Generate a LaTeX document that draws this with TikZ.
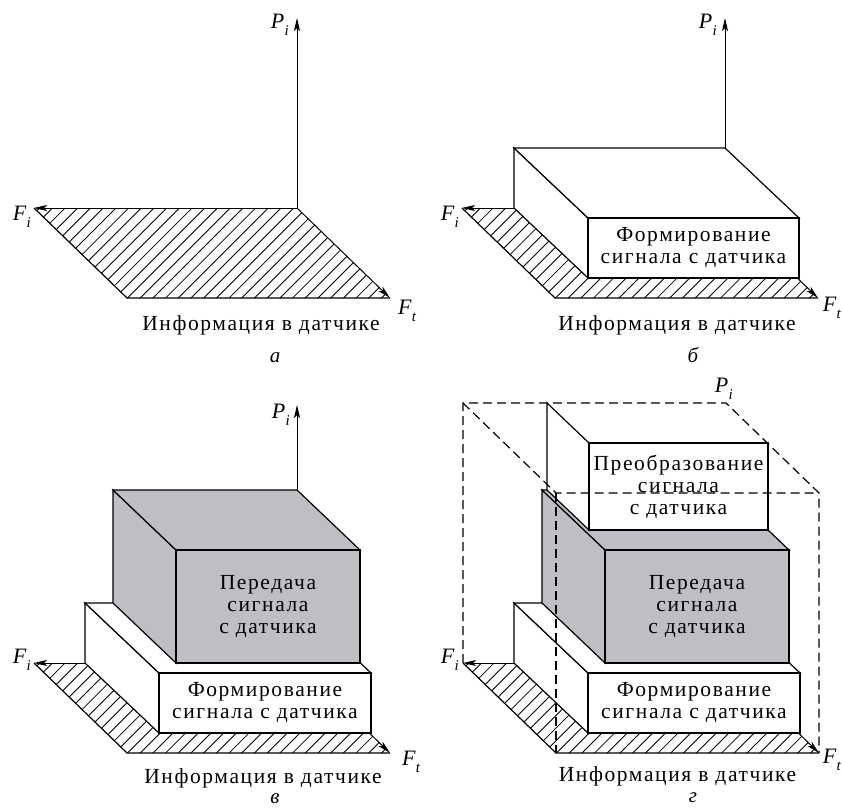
\documentclass[tikz,border=0pt]{standalone}
\usepackage{fontspec}
\setmainfont{Liberation Serif}
\newfontfamily\spacedfont{Liberation Serif}[LetterSpace=7.5]
\usetikzlibrary{arrows.meta,calc}

\definecolor{boxgray}{RGB}{190,191,195}

\tikzset{
  x=1pt, y=-1pt,
  edge/.style={line width=1.2pt, line join=miter},
  face/.style={edge, fill=white},
  grayface/.style={edge, fill=boxgray},
  axis/.style={line width=1pt, -{Stealth[length=13pt,width=6pt,inset=3pt]}},
  hatchline/.style={line width=0.85pt},
  cube/.style={line width=1.2pt, dash pattern=on 9pt off 5pt},
  txt/.style={font=\spacedfont\fontsize{21.5}{22}\selectfont, align=center, inner sep=0pt},
  axlabel/.style={font=\fontsize{22}{22}\selectfont\itshape, inner sep=0pt},
  caption/.style={font=\fontsize{21}{21}\selectfont\itshape, inner sep=0pt},
}

% italic symbol with a lowered index
\newcommand\sym[2]{#1\kern0.3pt\raisebox{-0.3em}{\fontsize{15}{15}\selectfont #2}}

% hatched floor with the F_i and F_t axes, origin at the back-right corner
\newcommand\floorpart[1]{%
  \coordinate (#1O) at (0,0);
  \coordinate (#1Fi) at (-263,0);
  \coordinate (#1BL) at (-170,90);
  \coordinate (#1Ft) at (93,90);
  \begin{scope}
    \clip (#1O) -- (#1Fi) -- (#1BL) -- (#1Ft) -- cycle;
    \foreach \c in {-270,-257.3,...,200}
      \draw[hatchline] (\c-100,100) -- (\c+10,-10);
  \end{scope}
  \draw[edge] (#1Fi) -- (#1BL) -- (#1Ft);
  \draw[axis] (#1O) -- (#1Fi);
  \draw[axis] (#1O) -- (#1Ft);
}

% box: name, style, back-left-bottom x, y, width, height, depth dx, dy, text
\newcommand\cuboid[9]{%
  \coordinate (#1-a) at (#3,#4);
  \coordinate (#1-b) at (#3,#4-#6);
  \coordinate (#1-c) at (#3+#5,#4-#6);
  \coordinate (#1-d) at (#3+#5+#7,#4-#6+#8);
  \coordinate (#1-e) at (#3+#7,#4-#6+#8);
  \coordinate (#1-f) at (#3+#7,#4+#8);
  \coordinate (#1-g) at (#3+#5+#7,#4+#8);
  \draw[#2] (#1-a) -- (#1-b) -- (#1-e) -- (#1-f) -- cycle;
  \draw[#2] (#1-b) -- (#1-c) -- (#1-d) -- (#1-e) -- cycle;
  \draw[#2] (#1-e) -- (#1-d) -- (#1-g) -- (#1-f) -- cycle;
  \node[txt] (#1) at ($(#1-e)!0.5!(#1-g)$) {#9};
}

\begin{document}
\begin{tikzpicture}
\useasboundingbox (0,0) rectangle (842,811);

% ---------- a: information in the sensor ----------
\begin{scope}[shift={(297,208)}]
  \floorpart{a}
  \coordinate (aPtip) at (0,-190);
  \draw[axis] (aO) -- (aPtip);
  \node[axlabel, anchor=east] (aPlab) at (-8,-183) {\sym{P}{i}};
  \node[axlabel, anchor=east] (aFilab) at (-266,9) {\sym{F}{i}};
  \node[axlabel, anchor=west] (aFtlab) at (101,103) {\sym{F}{t}};
  \node[txt] (aInfo) at (-36,117) {Информация в датчике};
  \node[caption] (aCap) at (-22,150) {а};
\end{scope}

% ---------- b: signal forming ----------
\begin{scope}[shift={(725,208)}]
  \floorpart{b}
  \coordinate (bPtip) at (0,-190);
  \draw[axis] (bO) -- (bPtip);
  \cuboid{bB1}{face}{-211}{0}{211}{60}{74}{70}{Формирование\\сигнала с датчика}
  \node[axlabel, anchor=east] (bPlab) at (-8,-183) {\sym{P}{i}};
  \node[axlabel, anchor=east] (bFilab) at (-266,9) {\sym{F}{i}};
  \node[axlabel, anchor=east] (bFtlab) at (116,100) {\sym{F}{t}};
  \node[txt] (bInfo) at (-48,117) {Информация в датчике};
  \node[caption] (bCap) at (-32,147) {б};
\end{scope}

% ---------- c: signal transmission ----------
\begin{scope}[shift={(297,663)}]
  \floorpart{c}
  \coordinate (cPtip) at (0,-258);
  \draw[axis] (cO) -- (cPtip);
  \cuboid{cB1}{face}{-212}{0}{212}{60}{74}{70}{Формирование\\сигнала с датчика}
  \cuboid{cB2}{grayface}{-184}{-60}{184}{113}{63}{60}{Передача\\сигнала\\с датчика}
  \node[axlabel, anchor=east] (cPlab) at (-7,-248) {\sym{P}{i}};
  \node[axlabel, anchor=east] (cFilab) at (-266,-3) {\sym{F}{i}};
  \node[axlabel, anchor=west] (cFtlab) at (105,99) {\sym{F}{t}};
  \node[txt] (cInfo) at (-34,115) {Информация в датчике};
  \node[caption] (cCap) at (-22,136) {в};
\end{scope}

% ---------- d: signal conversion ----------
\begin{scope}[shift={(726,663)}]
  \floorpart{d}
  \cuboid{dB1}{face}{-212}{0}{212}{60}{74}{70}{Формирование\\сигнала с датчика}
  \cuboid{dB2}{grayface}{-184}{-60}{184}{113}{63}{60}{Передача\\сигнала\\с датчика}
  % upper white box; its back and right top edges lie on the dashed frame
  \coordinate (dB3-a) at (-179,-173);
  \coordinate (dB3-b) at (-179,-260);
  \coordinate (dB3-c) at (0,-260);
  \coordinate (dB3-d) at (42,-220);
  \coordinate (dB3-e) at (-137,-220);
  \coordinate (dB3-f) at (-137,-133);
  \coordinate (dB3-g) at (42,-133);
  \fill[white] (dB3-b) -- (dB3-c) -- (dB3-d) -- (dB3-e) -- cycle;
  \draw[face] (dB3-a) -- (dB3-b) -- (dB3-e) -- (dB3-f) -- cycle;
  \draw[face] (dB3-e) -- (dB3-d) -- (dB3-g) -- (dB3-f) -- cycle;
  \node[txt] (dB3) at ($(dB3-e)!0.5!(dB3-g)$) {Преобразование\\сигнала\\с датчика};
  % dashed frame of the whole volume
  \coordinate (dK1) at (-263,-260);
  \coordinate (dK2) at (0,-260);
  \coordinate (dK3) at (93,-170);
  \coordinate (dK4) at (-170,-170);
  \draw[cube] (dFi) -- (dK1) -- (dK2) -- (dK3) -- (dFt);
  \draw[cube] (dK1) -- (dK4) -- (dK3);
  \draw[cube] (dK4) -- (dBL);
  \node[axlabel, anchor=east] (dPlab) at (7,-274) {\sym{P}{i}};
  \node[axlabel, anchor=east] (dFilab) at (-267,-3) {\sym{F}{i}};
  \node[axlabel, anchor=east] (dFtlab) at (115,97) {\sym{F}{t}};
  \node[txt] (dInfo) at (-48.5,113) {Информация в датчике};
  \node[caption] (dCap) at (-33,135) {г};
\end{scope}
\end{tikzpicture}
\end{document}
